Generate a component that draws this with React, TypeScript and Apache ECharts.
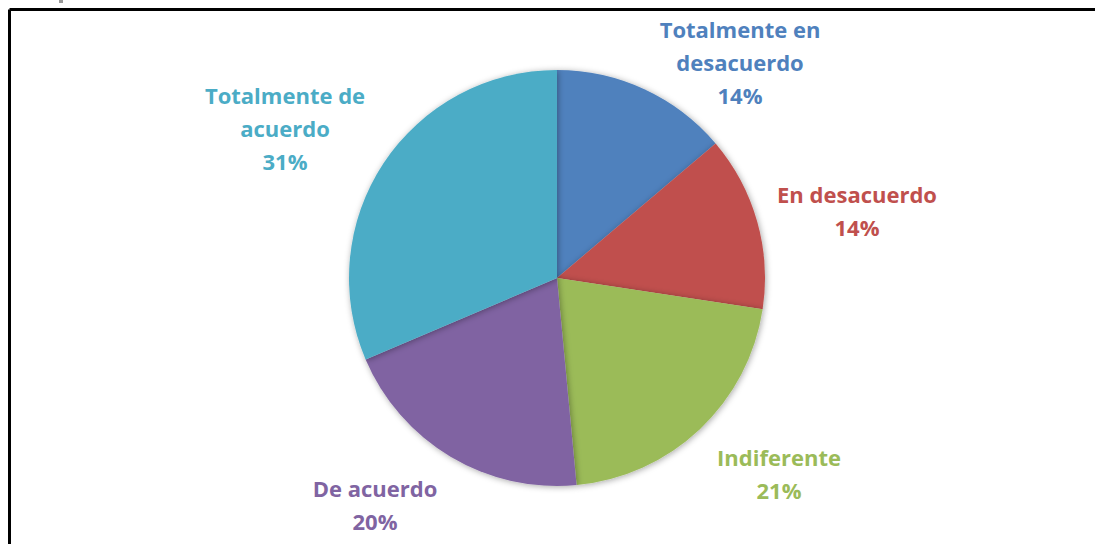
import React, { useEffect, useRef } from "react";
import * as echarts from "echarts";

const categories = [
  "Totalmente en\ndesacuerdo",
  "En desacuerdo",
  "Indiferente",
  "De acuerdo",
  "Totalmente de\nacuerdo",
];
const values = [13.8, 13.6, 21.1, 20.1, 31.4];
const colors = ["#4F81BD", "#C0504D", "#9BBB59", "#8064A2", "#4BACC6"];

// label centres (chart pixel coords)
const labelPos: [number, number][] = [
  [740, 62],
  [857, 210],
  [779, 473],
  [375, 504],
  [285, 128],
];

export default function App() {
  const ref = useRef<HTMLDivElement>(null);
  useEffect(() => {
    if (!ref.current) return;
    const chart = echarts.init(ref.current, null, { renderer: "svg" });
    chart.setOption({
      animation: false,
      backgroundColor: "#ffffff",
      graphic: [
        {
          type: "line",
          shape: { x1: 9.5, y1: 9.5, x2: 1095, y2: 9.5 },
          style: { stroke: "#000", lineWidth: 3 },
        },
        {
          type: "line",
          shape: { x1: 9.5, y1: 9.5, x2: 9.5, y2: 544 },
          style: { stroke: "#000", lineWidth: 3 },
        },
        {
          type: "rect",
          shape: { x: 59, y: 0, width: 4, height: 3 },
          style: { fill: "#999" },
        },
      ],
      series: [
        {
          type: "pie",
          center: [557, 278],
          radius: 208,
          startAngle: 90,
          clockwise: true,
          data: categories.map((c, i) => ({
            name: c,
            value: values[i],
            itemStyle: { color: colors[i] },
            label: { color: colors[i] },
          })),
          itemStyle: {
            shadowBlur: 6,
            shadowColor: "rgba(0,0,0,0.35)",
            shadowOffsetX: 1,
            shadowOffsetY: 1,
          },
          label: {
            show: true,
            position: "outside",
            formatter: (p: any) => `${p.name}\n${Math.round(p.percent)}%`,
            fontFamily: "Open Sans",
            fontWeight: "bold",
            fontSize: 22,
            lineHeight: 33,
            align: "center",
          },
          labelLine: { show: false },
          labelLayout: (p: any) => {
            const pos = labelPos[p.dataIndex];
            return {
              x: pos[0],
              y: pos[1],
              align: "center",
              verticalAlign: "middle",
            };
          },
          emphasis: { disabled: true },
        },
      ],
    });
    return () => chart.dispose();
  }, []);
  return (
    <div
      ref={ref}
      style={{ position: "fixed", left: 0, top: 0, width: 1095, height: 544 }}
    />
  );
}
